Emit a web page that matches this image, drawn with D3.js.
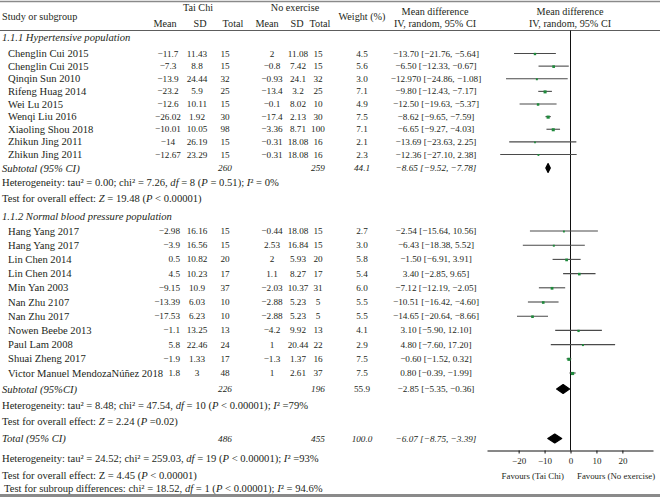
<!DOCTYPE html>
<html><head><meta charset="utf-8">
<script src="https://cdn.jsdelivr.net/npm/d3@7"></script>
<style>body{margin:0;background:#fff}svg{display:block}</style>
</head><body>
<svg id="c" width="660" height="498"></svg>
<script>
// ---------- DATA ----------
const names1 = ["Chenglin Cui 2015","Chenglin Cui 2015","Qinqin Sun 2010","Rifeng Huag 2014","Wei Lu 2015","Wenqi Liu 2016","Xiaoling Shou 2018","Zhikun Jing 2011","Zhikun Jing 2011"];
const tcMean1 = ["−11.7","−7.3","−13.9","−23.2","−12.6","−26.02","−10.01","−14","−12.67"];
const tcSD1 = ["11.43","8.8","24.44","5.9","10.11","1.92","10.05","26.19","23.29"];
const tcN1 = [15,15,32,25,15,30,98,15,15];
const neMean1 = ["2","−0.8","−0.93","−13.4","−0.1","−17.4","−3.36","−0.31","−0.31"];
const neSD1 = ["11.08","7.42","24.1","3.2","8.02","2.13","8.71","18.08","18.08"];
const neN1 = [15,15,32,25,10,30,100,16,16];
const weight1 = ["4.5","5.6","3.0","7.1","4.9","7.5","7.1","2.1","2.3"];
const md1 = [-13.70,-6.50,-12.97,-9.80,-12.50,-8.62,-6.65,-13.69,-12.36];
const lo1 = [-21.76,-12.33,-24.86,-12.43,-19.63,-9.65,-9.27,-23.63,-27.10];
const hi1 = [-5.64,-0.67,-1.08,-7.17,-5.37,-7.59,-4.03,2.25,2.38];
const ciText1 = ["−13.70 [−21.76, −5.64]","−6.50 [−12.33, −0.67]","−12.970 [−24.86, −1.08]","−9.80 [−12.43, −7.17]","−12.50 [−19.63, −5.37]","−8.62 [−9.65, −7.59]","−6.65 [−9.27, −4.03]","−13.69 [−23.63, 2.25]","−12.36 [−27.10, 2.38]"];

const names2 = ["Hang Yang 2017","Hang Yang 2017","Lin Chen 2014","Lin Chen 2014","Min Yan 2003","Nan Zhu 2107","Nan Zhu 2017","Nowen Beebe 2013","Paul Lam 2008","Shuai Zheng 2017","Victor Manuel MendozaNúñez 2018"];
const tcMean2 = ["−2.98","−3.9","0.5","4.5","−9.15","−13.39","−17.53","−1.1","5.8","−1.9","1.8"];
const tcSD2 = ["16.16","16.56","10.82","10.23","10.9","6.03","6.23","13.25","22.46","1.33","3"];
const tcN2 = [15,15,20,17,37,10,10,13,24,17,48];
const neMean2 = ["−0.44","2.53","2","1.1","−2.03","−2.88","−2.88","−4.2","1","−1.3","1"];
const neSD2 = ["18.08","16.84","5.93","8.27","10.37","5.23","5.23","9.92","20.44","1.37","2.61"];
const neN2 = [15,15,20,17,31,5,5,13,22,16,37];
const weight2 = ["2.7","3.0","5.8","5.4","6.0","5.5","5.5","4.1","2.9","7.5","7.5"];
const md2 = [-2.54,-6.43,-1.50,3.40,-7.12,-10.51,-14.65,3.10,4.80,-0.60,0.80];
const lo2 = [-15.64,-18.38,-6.91,-2.85,-12.19,-16.42,-20.64,-5.90,-7.60,-1.52,-0.39];
const hi2 = [10.56,5.52,3.91,9.65,-2.05,-4.60,-8.66,12.10,17.20,0.32,1.99];
const ciText2 = ["−2.54 [−15.64, 10.56]","−6.43 [−18.38, 5.52]","−1.50 [−6.91, 3.91]","3.40 [−2.85, 9.65]","−7.12 [−12.19, −2.05]","−10.51 [−16.42, −4.60]","−14.65 [−20.64, −8.66]","3.10 [−5.90, 12.10]","4.80 [−7.60, 17.20]","−0.60 [−1.52, 0.32]","0.80 [−0.39, −1.99]"];

const pooledMD = [-8.65,-2.85,-6.07];
const pooledLo = [-9.52,-5.35,-8.75];
const pooledHi = [-7.78,-0.36,-3.39];
const pooledText = ["−8.65 [−9.52, −7.78]","−2.85 [−5.35, −0.36]","−6.07 [−8.75, −3.39]"];
const pooledTC = [260,226,486];
const pooledNE = [259,196,455];
const pooledW = ["44.1","55.9","100.0"];
const xTicks = [-20,-10,0,10,20];

// ---------- LAYOUT ----------
const svg = d3.select("#c");
const FONT = "'Liberation Serif','Times New Roman',serif";
const TXT = "#231f20";
const LBL = 10.6, HDR = 10.2, NUM = 9.2;
const col = {name:8, tcM:168, tcM2R:180, tcS:197, tcN:225, neM:272, neS:298, neN:318, w:362, ci:436};
const x = d3.scaleLinear().domain([-32,32]).range([487.5,653.5]);
const y1 = d3.scaleLinear().domain([0,8]).range([53.5,154.5]);
const y2 = d3.scaleLinear().domain([0,10]).range([231,373]);
const ySub = [168, 389, 438.5];
const axisY = 450.5;

function txt(xp, yp, s, opt={}) {
  return svg.append("text").attr("x", xp).attr("y", yp)
    .attr("dominant-baseline","central")
    .attr("text-anchor", opt.anchor || "start")
    .attr("font-family", FONT).attr("font-size", opt.size || LBL)
    .attr("font-style", opt.italic ? "italic" : null)
    .attr("fill", TXT).text(s);
}
function num(xp, yp, s, italic, anchor) {
  return txt(xp, yp, s, {anchor:anchor || "middle", size:NUM, italic:italic});
}
function rich(xp, yp, parts) {
  const t = svg.append("text").attr("x", xp).attr("y", yp)
    .attr("dominant-baseline","central")
    .attr("font-family", FONT).attr("font-size", LBL).attr("fill", TXT);
  parts.forEach(p => {
    const sp = t.append("tspan").text(p[0]);
    if (p[1]) sp.attr("font-style","italic");
  });
}

// rules
svg.append("line").attr("x1",0).attr("x2",660).attr("y1",1.5).attr("y2",1.5).attr("stroke","#8a8a8a").attr("stroke-width",1.5);
svg.append("line").attr("x1",0).attr("x2",660).attr("y1",30.5).attr("y2",30.5).attr("stroke","#333").attr("stroke-width",0.8);
svg.append("line").attr("x1",0).attr("x2",660).attr("y1",495.5).attr("y2",495.5).attr("stroke","#8a8a8a").attr("stroke-width",3);

// header
txt(2, 16, "Study or subgroup", {size:HDR});
txt(198, 7.5, "Tai Chi", {anchor:"middle", size:HDR});
txt(295, 7.5, "No exercise", {anchor:"middle", size:HDR});
txt(165, 23, "Mean", {anchor:"middle", size:HDR});
txt(200, 23, "SD", {anchor:"middle", size:HDR});
txt(233, 23, "Total", {anchor:"middle", size:HDR});
txt(267, 23, "Mean", {anchor:"middle", size:HDR});
txt(297, 23, "SD", {anchor:"middle", size:HDR});
txt(320, 23, "Total", {anchor:"middle", size:HDR});
txt(362, 16, "Weight (%)", {anchor:"middle", size:HDR});
txt(435, 11.5, "Mean difference", {anchor:"middle", size:HDR});
txt(435, 23, "IV, random, 95% CI", {anchor:"middle", size:HDR});
txt(570, 11.5, "Mean difference", {anchor:"middle", size:HDR});
txt(570, 23, "IV, random, 95% CI", {anchor:"middle", size:HDR});

// zero line
svg.append("line").attr("x1",x(0)).attr("x2",x(0)).attr("y1",30.5).attr("y2",axisY).attr("stroke","#111").attr("stroke-width",1);

// subgroup headers
txt(2, 37.5, "1.1.1 Hypertensive population", {italic:true});
txt(2, 216, "1.1.2 Normal blood pressure population", {italic:true});

function drawGroup(yS, names, tm, ts, tn, nm, ns, nn, w, md, lo, hi, ct, meanRight) {
  names.forEach((n,i) => {
    const yy = yS(i);
    txt(col.name, yy, n);
    if (meanRight) num(col.tcM2R, yy, tm[i], false, "end"); else num(col.tcM, yy, tm[i]);
    num(col.tcS, yy, ts[i]);
    num(col.tcN, yy, tn[i]);
    num(col.neM, yy, nm[i]);
    num(col.neS, yy, ns[i]);
    num(col.neN, yy, nn[i]);
    num(col.w, yy, w[i]);
    num(col.ci, yy, ct[i]);
    svg.append("line").attr("x1",x(lo[i])).attr("x2",x(hi[i])).attr("y1",yy).attr("y2",yy)
      .attr("stroke","#4a4a4a").attr("stroke-width",1.1);
    const s = 1.2 + (+w[i]) * 0.26;
    svg.append("rect").attr("x",x(md[i])-s/2).attr("y",yy-s/2+0.5).attr("width",s).attr("height",s)
      .attr("fill","#1f8a3c");
  });
}
drawGroup(y1, names1, tcMean1, tcSD1, tcN1, neMean1, neSD1, neN1, weight1, md1, lo1, hi1, ciText1, false);
drawGroup(y2, names2, tcMean2, tcSD2, tcN2, neMean2, neSD2, neN2, weight2, md2, lo2, hi2, ciText2, true);

// pooled rows
const pooledLabel = ["Subtotal (95% CI)","Subtotal (95%CI)","Total (95% CI)"];
const ciItalic = [true,false,true];
pooledLabel.forEach((lab,i) => {
  const yy = ySub[i];
  txt(2, yy, lab, {italic:true});
  num(col.tcN, yy, pooledTC[i], true);
  num(col.neN, yy, pooledNE[i], true);
  num(col.w, yy, pooledW[i], ciItalic[i]);
  num(col.ci, yy, pooledText[i], ciItalic[i]);
  const h = 4.4;
  const pts = [[x(pooledLo[i]),yy],[x(pooledMD[i]),yy-h],[x(pooledHi[i]),yy],[x(pooledMD[i]),yy+h]];
  svg.append("path").attr("d","M"+pts.map(p=>p.join(",")).join("L")+"Z").attr("fill","#000")
    .attr("stroke","#000").attr("stroke-width",1.2).attr("stroke-linejoin","round");
});

// heterogeneity / tests
rich(2, 182, [["Heterogeneity: tau² = 0.00; chi² = 7.26, "],["df",1],[" = 8 ("],["P",1],[" = 0.51); "],["I",1],["² = 0%"]]);
rich(2, 197.5, [["Test for overall effect: "],["Z",1],[" = 19.48 ("],["P",1],[" < 0.00001)"]]);
rich(2, 405, [["Heterogeneity: tau² = 8.48; chi² = 47.54, "],["df",1],[" = 10 ("],["P",1],[" < 0.00001); "],["I",1],["² =79%"]]);
rich(2, 421, [["Test for overall effect: "],["Z",1],[" = 2.24 ("],["P",1],[" =0.02)"]]);
rich(2, 458, [["Heterogeneity: tau² = 24.52; chi² = 259.03, "],["df",1],[" = 19 ("],["P",1],[" < 0.00001); "],["I",1],["² =93%"]]);
rich(2, 474.5, [["Test for overall effect: Z = 4.45 ("],["P",1],[" < 0.00001)"]]);
rich(4, 488, [["Test for subroup differences: chi² = 18.52, "],["df",1],[" = 1 ("],["P",1],[" < 0.00001); "],["I",1],["² = 94.6%"]]);

// axis
const ax = svg.append("g").attr("transform",`translate(0,${axisY})`)
  .call(d3.axisBottom(x).tickValues(xTicks).tickSize(3).tickSizeOuter(0).tickFormat(d => d < 0 ? "−"+Math.abs(d) : d));
ax.select(".domain").attr("stroke","#111").attr("d",`M${x(-32)},0.5H${x(32)}`);
ax.selectAll(".tick line").attr("stroke","#111");
ax.selectAll(".tick text").attr("font-family",FONT).attr("font-size",9).attr("fill",TXT).attr("dy","0.85em");
txt(564, 475.5, "Favours (Tai Chi)", {anchor:"end", size:8.8});
txt(577, 475.5, "Favours (No exercise)", {anchor:"start", size:8.8});
</script>
</body></html>
